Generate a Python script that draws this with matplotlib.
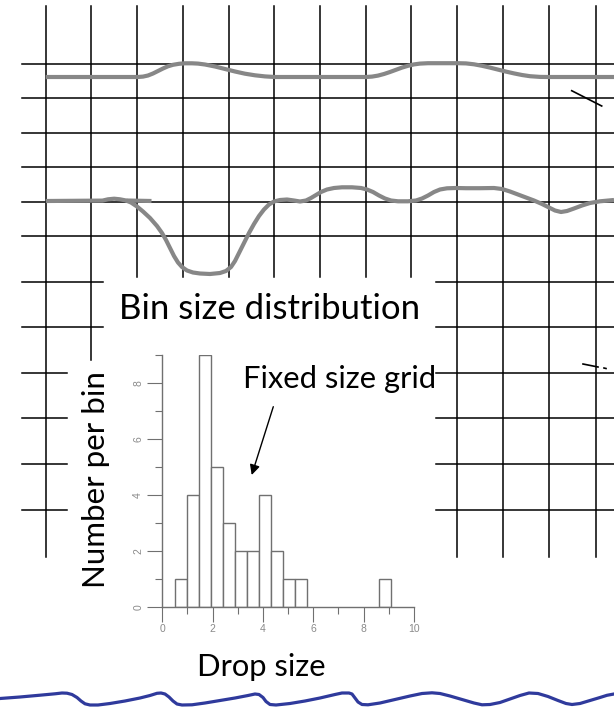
import matplotlib
matplotlib.use("Agg")
from matplotlib import pyplot as plt
import numpy as np

# ---------------- grid (picture pixels) ----------------
grid_x = [45.7, 91.0, 136.7, 182.7, 228.7, 274.3, 320.0, 366.3, 411.3, 457.3, 503.3, 549.3, 595.7]
grid_x_bottom = [557, 360, 277, 277, 277, 277, 277, 277, 277, 557, 557, 557, 557]
grid_y_full = [64.0, 98.3, 132.7, 167.0, 201.7, 236.0]
grid_y_mid = [281.7, 327.0]
grid_y_low = [373.0, 418.0, 464.0, 510.0]

# ---------------- traces ----------------
top_x = [45.7, 137.7, 143, 148, 153, 158, 163, 168, 173, 179, 185, 192, 198, 205, 215, 225, 235, 245,
         255, 265, 275, 366, 372, 378, 384, 390, 396, 402, 408, 414, 420, 428, 458, 466, 474, 482,
         490, 498, 506, 514, 522, 530, 540, 549, 614]
top_y = [77, 77, 76.6, 75.5, 73.5, 71, 68.5, 66.3, 64.8, 63.8, 63.3, 63.3, 63.6, 64.5, 66.5, 69,
         71.5, 73.7, 75.3, 76.4, 77, 77, 76.6, 75.6, 74, 72, 69.8, 67.6, 65.8, 64.4, 63.6, 63.2,
         63.2, 63.4, 64.3, 65.8, 67.6, 69.6, 71.6, 73.4, 75, 76.2, 76.9, 77, 77]

stub_x = [45.7, 102.5, 108, 114.2, 120, 126, 151.5]
stub_y = [201, 200.6, 199.3, 198.7, 199.3, 200.5, 201]

low_x = [126, 131, 137, 143, 150, 157, 162, 166, 170, 174, 178, 182, 187, 193, 200, 210, 220, 226,
         231, 235, 239, 244, 249, 254, 259, 264, 269, 274, 280, 287, 294, 300, 306, 311, 316, 321,
         327, 334, 342, 352, 361, 367, 373, 379, 385, 391, 398, 408, 416, 422, 428, 434, 440, 447,
         456, 466, 480, 494, 502, 510, 518, 526, 534, 542, 549, 555, 561, 567, 574, 582, 590, 600,
         614]
low_y = [200.5, 202.5, 206.5, 211.5, 218, 226, 233, 240, 248, 256, 262.5, 267, 270.5, 272.5, 273.5,
         274, 273, 271, 267, 261, 253, 243, 233, 224, 216, 209.5, 204.5, 201.5, 200, 199.5, 200.5,
         201.5, 200.5, 198, 195, 192, 189.5, 188, 187.3, 187.3, 188, 189.5, 192, 195.5, 198.5,
         200.5, 201.3, 201.3, 200.5, 198.5, 195.5, 192, 189.5, 188.3, 188, 188.2, 188.2, 188, 189,
         191.5, 194.5, 197.5, 200.5, 204, 207.5, 210.5, 212, 211, 208.5, 205.5, 203, 201.3, 200]

blue_x = [0, 20, 40, 55, 62, 67, 72, 77, 81, 85, 90, 98, 110, 125, 140, 150, 157, 161, 165, 169, 173,
          177, 182, 192, 205, 220, 235, 248, 255, 259, 263, 266, 270, 276, 290, 305, 320, 335, 342,
          349, 352, 355, 358, 362, 368, 380, 395, 410, 422, 432, 440, 450, 462, 474, 482, 490, 500,
          510, 520, 529, 538, 548, 558, 566, 572, 580, 590, 600, 607, 614]
blue_y = [698.5, 697, 695.2, 693.8, 693, 693.2, 694.5, 697.5, 701, 703.8, 705, 705, 703.5, 701, 698,
          695.5, 693.3, 693, 694, 697, 701, 704, 705, 704.8, 703, 700.5, 698, 695.5, 694, 694.5,
          697.5, 701.5, 704.5, 705, 703.5, 701, 698, 694.5, 693, 693, 694, 698, 702, 704.5, 704.8,
          703, 699.5, 696, 693.5, 692.8, 693.5, 696, 699.5, 703, 704.8, 704.5, 702.5, 699, 695.5,
          693, 693.5, 696.5, 700.5, 703.5, 704.5, 703.5, 700.5, 697.5, 695.3, 694]

marks = [((571.7, 90.7), (601.7, 106)), ((583, 364), (598, 367)), ((604, 368), (606, 368.5))]

# ---------------- histogram ----------------
bin_left = [0.5, 0.98, 1.46, 1.94, 2.42, 2.90, 3.36, 3.83, 4.31, 4.79, 5.27, 8.60]
bin_width = 0.475
counts = [1, 4, 9, 5, 3, 2, 2, 4, 2, 1, 1, 1]

W, H = 614, 708
fig = plt.figure(figsize=(W / 100, H / 100), dpi=100)
ax = fig.add_axes([0, 0, 1, 1])
ax.set_xlim(0, W)
ax.set_ylim(H, 0)
ax.axis("off")

lw_grid = 1.1
for x, yb in zip(grid_x, grid_x_bottom):
    ax.plot([x, x], [6, yb], color="black", lw=lw_grid, zorder=1)
for y in grid_y_full:
    ax.plot([22, W], [y, y], color="black", lw=lw_grid, zorder=1)
for y in grid_y_mid:
    ax.plot([22, 102.5], [y, y], color="black", lw=lw_grid, zorder=1)
    ax.plot([436, W], [y, y], color="black", lw=lw_grid, zorder=1)
for y in grid_y_low:
    ax.plot([22, 67], [y, y], color="black", lw=lw_grid, zorder=1)
    ax.plot([436, W], [y, y], color="black", lw=lw_grid, zorder=1)

for (a, b) in marks:
    ax.plot([a[0], b[0]], [a[1], b[1]], color="black", lw=1.2, zorder=2)

gray = "#878787"
for xs, ys in [(top_x, top_y), (stub_x, stub_y), (low_x, low_y)]:
    ax.plot(xs, ys, color=gray, lw=3, solid_capstyle="butt", solid_joinstyle="round", zorder=2)
ax.plot(blue_x, blue_y, color="#2f3a9c", lw=2.3, solid_joinstyle="round", zorder=2)

font = ["Lato", "DejaVu Sans"]
ax.text(270, 309, "Bin size distribution", family=font, fontsize=25,
        ha="center", va="center", zorder=3)
ax.text(340, 379, "Fixed size grid", family=font, fontsize=22.2,
        ha="center", va="center", zorder=3)
ax.text(261, 667, "Drop size", family=font, fontsize=22.2,
        ha="center", va="center", zorder=3)
ax.text(96, 480, "Number per bin", family=font, fontsize=22.5, rotation=90,
        ha="center", va="center", zorder=3)
ax.annotate("", xy=(251.7, 475), xytext=(273.3, 406.7),
            arrowprops=dict(arrowstyle="-|>", color="black", lw=1.0,
                            mutation_scale=15, shrinkA=0, shrinkB=0), zorder=3)

# inset histogram
x0, x1 = 162.3, 414.0
y0, y1 = 606.7, 355.0
hx = fig.add_axes([x0 / W, 1 - y0 / H, (x1 - x0) / W, (y0 - y1) / H])
hx.set_facecolor("none")
hx.bar(bin_left, counts, width=bin_width, align="edge", facecolor="white",
       edgecolor="#707070", linewidth=1.0)
hx.set_xlim(0, 10)
hx.set_ylim(0, 9)
for s in ["top", "right"]:
    hx.spines[s].set_visible(False)
for s in ["left", "bottom"]:
    hx.spines[s].set_color("#707070")
    hx.spines[s].set_linewidth(1.0)
hx.set_xticks([0, 2, 4, 6, 8, 10])
hx.set_xticks([1, 3, 5, 7, 9], minor=True)
hx.set_yticks([0, 2, 4, 6, 8])
hx.set_yticks([1, 3, 5, 7, 9], minor=True)
hx.tick_params(which="major", length=10.8, width=0.8, color="#707070",
               labelsize=7.5, labelcolor="#8a8a8a", pad=2)
hx.tick_params(which="minor", length=5, width=0.8, color="#707070")
hx.tick_params(axis="y", pad=3)
for lab in hx.get_xticklabels() + hx.get_yticklabels():
    lab.set_family("Liberation Sans")
for lab in hx.get_yticklabels():
    lab.set_rotation(90)
    lab.set_va("center")

fig.savefig("out.png", dpi=100)
